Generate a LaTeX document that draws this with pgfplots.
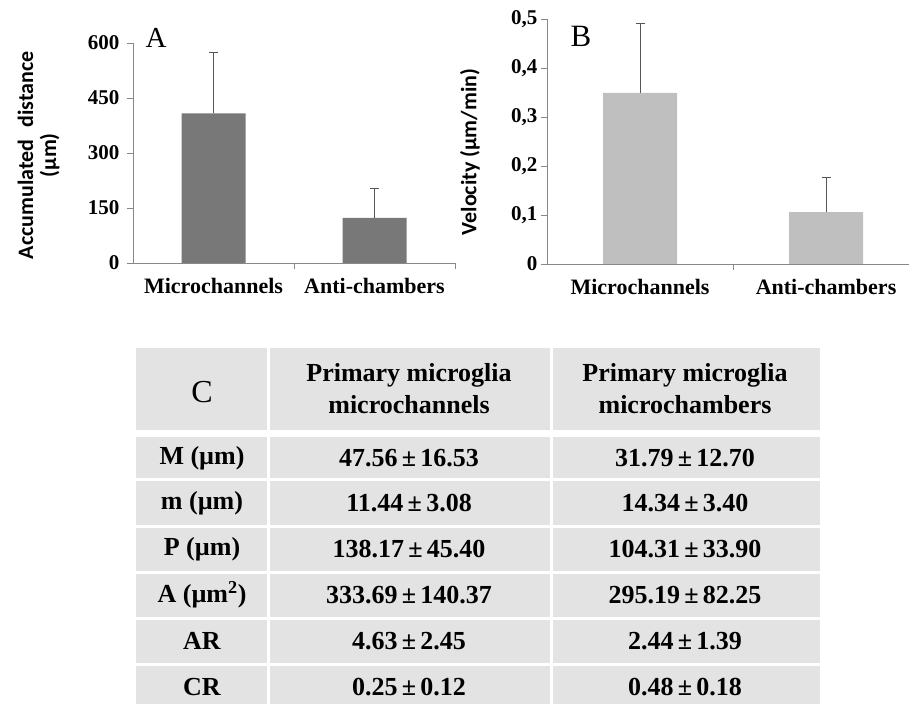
\documentclass[border=0pt]{standalone}
\usepackage{fontspec}
\setmainfont{Liberation Serif}
\newfontfamily\labelfont{Carlito}
\usepackage{pgfplots}
\pgfplotsset{compat=1.18}
\definecolor{axisgray}{HTML}{888888}
\definecolor{barA}{HTML}{787878}
\definecolor{barB}{HTML}{BFBFBF}
\definecolor{cellgray}{HTML}{E3E3E3}
\definecolor{errgray}{HTML}{555555}
\pgfplotsset{
  myaxis/.style={
    scale only axis,
    ymin=0,
    xmin=-0.5,
    axis x line=bottom, axis y line=left,
    axis line style={axisgray, line width=0.8pt, -},
    tick align=outside,
    major tick length=6pt,
    minor tick length=6pt,
    y tick style={axisgray, line width=0.8pt},
    major x tick style={draw=none},
    minor x tick style={axisgray, line width=0.8pt},
    xtick={0,1},
    minor xtick={0.5,1.5},
    xticklabels={Microchannels, Anti-chambers},
    /pgf/number format/assume math mode=true,
    yticklabel style={font=\fontsize{21}{21}\selectfont\bfseries},
    xticklabel style={font=\fontsize{22}{22}\selectfont\bfseries, yshift=-6pt},
    ylabel style={font=\labelfont\fontsize{22}{23}\selectfont\bfseries, align=center, anchor=center},
    error bars/error bar style={errgray, line width=0.9pt},
    error bars/error mark options={rotate=90, mark size=4.5pt, errgray, line width=0.9pt},
  }
}
\begin{document}
\begin{tikzpicture}[x=1pt,y=1pt]
\path[use as bounding box] (0,0) rectangle (909,704);

% ---------- Panel A ----------
\begin{axis}[myaxis,
  at={(133pt,441pt)}, anchor=south west,
  width=322pt, height=220pt,
  xmax=1.5, ymax=600,
  ytick={0,150,300,450,600},
  yticklabel style={xshift=-4pt},
  ylabel={Accumulated\hspace{0.55em}distance\\(µm)},
  ylabel style={at={(axis description cs:-0.293,0.49)}},
]
\addplot[ybar, bar width=64pt, fill=barA, draw=none,
  error bars/.cd, y dir=plus, y explicit]
  coordinates {(0,408) +- (0,165) (1,123) +- (0,80)};
\end{axis}
\node[font=\fontsize{29}{29}\selectfont] at (156,666) {A};

% ---------- Panel B ----------
\begin{axis}[myaxis,
  at={(547pt,440pt)}, anchor=south west,
  width=362pt, height=245pt,
  xmax=1.446, ymax=0.5,
  ytick={0,0.1,0.2,0.3,0.4,0.5},
  yticklabels={0,{0,1},{0,2},{0,3},{0,4},{0,5}},
  ylabel={Velocity (µm/min)},
  ylabel style={at={(axis description cs:-0.213,0.457)}},
]
\addplot[ybar, bar width=74pt, fill=barB, draw=none,
  error bars/.cd, y dir=plus, y explicit]
  coordinates {(0,0.349) +- (0,0.141) (1,0.106) +- (0,0.070)};
\end{axis}
\node[font=\fontsize{31}{31}\selectfont] at (581,668) {B};

% ---------- Table C ----------
\fill[cellgray] (136,0) rectangle (820,356);
\fill[white] (136,267) rectangle (820,274);
\foreach \yy in {224,178,132,86,40} {
  \fill[white] (136,\yy-1.5) rectangle (820,\yy+1.5);
}
\fill[white] (266.5,0) rectangle (269.5,356);
\fill[white] (549.5,0) rectangle (552.5,356);

\begin{scope}[every node/.style={font=\fontsize{26}{32}\selectfont\bfseries, align=center}]
\node[font=\fontsize{32}{32}\selectfont] at (202,312) {C};
\node at (409,315) {Primary microglia\\microchannels};
\node at (685,315) {Primary microglia\\microchambers};
\node at (202,245.5) {M (µm)};
\node at (202,201) {m (µm)};
\node at (202,155) {P (µm)};
\node at (202,109) {A (µm\textsuperscript{2})};
\node at (202,63) {AR};
\node at (202,17) {CR};
\node at (409,245.5) {47.56\,±\,16.53};
\node at (409,201) {11.44\,±\,3.08};
\node at (409,155) {138.17\,±\,45.40};
\node at (409,109) {333.69\,±\,140.37};
\node at (409,63) {4.63\,±\,2.45};
\node at (409,17) {0.25\,±\,0.12};
\node at (685,245.5) {31.79\,±\,12.70};
\node at (685,201) {14.34\,±\,3.40};
\node at (685,155) {104.31\,±\,33.90};
\node at (685,109) {295.19\,±\,82.25};
\node at (685,63) {2.44\,±\,1.39};
\node at (685,17) {0.48\,±\,0.18};
\end{scope}
\end{tikzpicture}
\end{document}
